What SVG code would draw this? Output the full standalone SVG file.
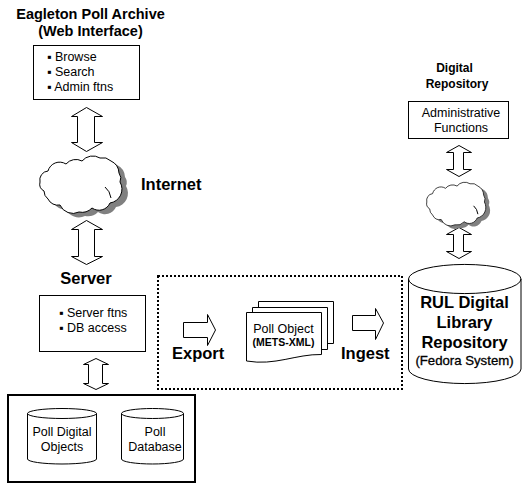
<svg xmlns="http://www.w3.org/2000/svg" width="529" height="489" viewBox="0 0 529 489" xmlns:xlink="http://www.w3.org/1999/xlink">
<style>
text{font-family:"Liberation Sans",Arial,sans-serif;fill:#000}
.b{font-weight:bold;font-size:16.500px}
.h{font-weight:bold;font-size:14.500px}
.t{font-size:12.500px}
.m{text-anchor:middle}
.s{fill:#fff;stroke:#000;stroke-width:1}
.n{vector-effect:non-scaling-stroke}
</style>
<defs>
<path id="cloud" d="M40 182A9 9 0 0 1 48 171A12 12 0 0 1 66 164A13 13 0 0 1 82 161A14 14 0 0 1 100 158A12 12 0 0 1 111 161A14 14 0 0 1 119 173A9 9 0 0 1 120 182A14 14 0 0 1 110 203A12 12 0 0 1 92 208A14 14 0 0 1 79 212A14 14 0 0 1 60 205A11 11 0 0 1 48 199A10 10 0 0 1 44 191A8 8 0 0 1 40 182Z"/>
<g id="cloudfull">
<use xlink:href="#cloud" href="#cloud" transform="translate(6 4)" fill="#808080"/>
<use xlink:href="#cloud" href="#cloud" class="s n" style="vector-effect:non-scaling-stroke"/>
<path class="n" d="M105 187Q110 191 111 198" fill="none" stroke="#000"/>
</g>
</defs>
<g id="connectors">
<path class="s" d="M86.500 107.500L102.500 116.500H94.500V142.500H102.500L86.500 151.500L71.500 142.500H77.500V116.500H71.500Z"/>
<path class="s" d="M86.500 220.500L102.500 229.500H94.500V256.500H102.500L86.500 264.500L71.500 256.500H78.500V229.500H71.500Z"/>
<path class="s" d="M96 358.500L108.500 364.500H102.500V383.500H108.500L96 389.500L83.500 383.500H88.500V364.500H83.500Z"/>
<path class="s" d="M459 145.500L471.500 152.500H463.500V169.500H471.500L459 176.500L446.500 169.500H453.500V152.500H446.500Z"/>
<path class="s" d="M459 227.500L471.500 234.500H463.500V251.500H471.500L459 258.500L446.500 251.500H453.500V234.500H446.500Z"/>
<path class="s" d="M183.500 322.500H207.500V314.500L215.500 330L207.500 345.500V337.500H183.500Z"/>
<path class="s" d="M352.500 315.500H375.500V308.500L383.500 323L375.500 339.500V330.500H352.500Z"/>
</g>
<g id="web-title">
<text class="h m" x="90.500" y="19">Eagleton Poll Archive</text>
<text class="h m" x="90.500" y="36">(Web Interface)</text>
</g>
<g id="web-box">
<rect class="s" x="33.500" y="45.500" width="106" height="54"/>
<text class="t" x="47" y="61">▪ Browse</text>
<text class="t" x="47" y="76">▪ Search</text>
<text class="t" x="47" y="91">▪ Admin ftns</text>
</g>
<g id="internet-cloud">
<use xlink:href="#cloudfull" href="#cloudfull"/>
<text class="b" x="141" y="190">Internet</text>
</g>
<g id="server">
<text class="b m" x="86" y="284">Server</text>
<rect class="s" x="39.500" y="295.500" width="106" height="56"/>
<text class="t" x="59" y="317">▪ Server ftns</text>
<text class="t" x="59" y="332">▪ DB access</text>
</g>
<g id="databases">
<rect x="8" y="395" width="187" height="87" fill="none" stroke="#000" stroke-width="2"/>
</g>
<g id="poll-digital-objects">
<path class="s" d="M27.500 413.500A34.500 5 0 0 1 96.500 413.500V459A34.500 5 0 0 1 27.500 459ZM27.500 413.500A34.500 5 0 0 0 96.500 413.500"/>
<text class="t m" x="62" y="436">Poll Digital</text>
<text class="t m" x="62" y="451">Objects</text>
</g>
<g id="poll-database">
<path class="s" d="M121.500 413.500A31 5 0 0 1 183.500 413.500V459A31 5 0 0 1 121.500 459ZM121.500 413.500A31 5 0 0 0 183.500 413.500"/>
<text class="t m" x="155" y="436">Poll</text>
<text class="t m" x="155" y="451">Database</text>
</g>
<g id="export-ingest">
<rect x="158" y="276" width="244" height="113" fill="none" stroke="#000" stroke-width="2" stroke-dasharray="2 2"/>
<text class="b" x="172" y="359">Export</text>
<text class="b" x="341" y="359">Ingest</text>
</g>
<g id="poll-object">
<path class="s" d="M258.500 301.500H333.500V343.500H258.500Z"/>
<path class="s" d="M252.500 307.500H327.500V349.500H252.500Z"/>
<path class="s" d="M246.500 312.500H321.500V354.500C296 354 275 366 246.500 361Z"/>
<text class="t m" x="283.500" y="333">Poll Object</text>
<text class="m" x="283.500" y="346" style="font-size:10.500px;font-weight:bold">(METS-XML)</text>
</g>
<g id="admin-box">
<text class="m" x="454.500" y="72" style="font-size:12px;font-weight:bold">Digital</text>
<text class="m" x="457" y="88" style="font-size:12px;font-weight:bold">Repository</text>
<rect class="s" x="408.500" y="101.500" width="100" height="37"/>
<text class="t m" x="461" y="117">Administrative</text>
<text class="t m" x="461" y="132">Functions</text>
</g>
<g id="repo-cloud">
<use xlink:href="#cloudfull" href="#cloudfull" transform="translate(398 63.700) scale(0.72 0.76)"/>
</g>
<g id="rul-repository">
<path class="s" d="M408.500 279A56 14.500 0 0 1 521 279V369A56 14.500 0 0 1 408.500 369ZM408.500 279A56 14.500 0 0 0 521 279"/>
<text class="b m" x="464.500" y="308">RUL Digital</text>
<text class="b m" x="464.500" y="328">Library</text>
<text class="b m" x="464.500" y="348">Repository</text>
<text class="m" x="464.500" y="365" style="font-size:13.200px;stroke:#000;stroke-width:.3">(Fedora System)</text>
</g>
</svg>
